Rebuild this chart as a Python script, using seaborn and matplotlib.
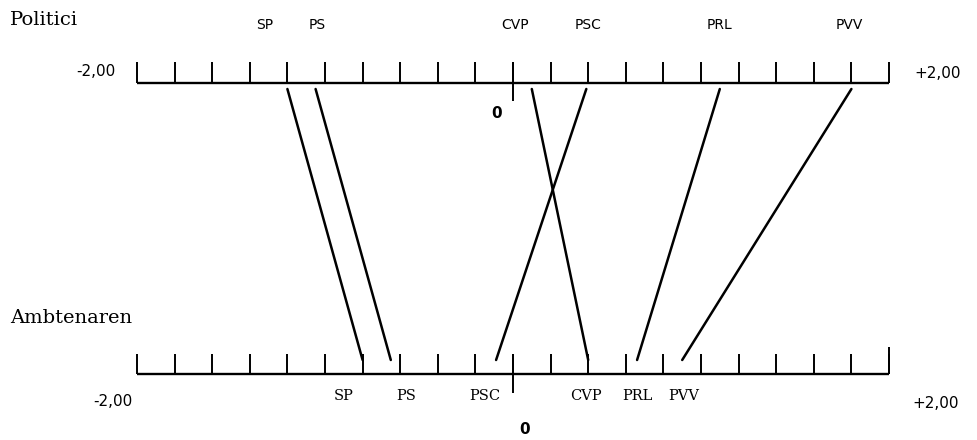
import numpy as np
import pandas as pd
import matplotlib
matplotlib.use("Agg")
import matplotlib.pyplot as plt
import seaborn as sns

# scores op de schaal -2,00 .. +2,00
parties = ["SP", "PS", "CVP", "PSC", "PRL", "PVV"]
politici = [-1.20, -1.05, 0.10, 0.39, 1.10, 1.80]
ambtenaren = [-0.80, -0.65, 0.40, -0.09, 0.66, 0.90]

top_order = ["SP", "PS", "CVP", "PSC", "PRL", "PVV"]
bottom_order = ["SP", "PS", "PSC", "CVP", "PRL", "PVV"]
tick_values = np.arange(-2.0, 2.001, 0.2)

# layout in pixels (y, top down)
Y_TOP, Y_BOT = 83, 374
PX_PER_UNIT = 188
X0 = 513

sns.set_style("white")
plt.rcParams["font.family"] = ["DejaVu Sans"]
plt.rcParams["text.color"] = "black"

fig = plt.figure(figsize=(9.78, 4.40), dpi=100)
ax = fig.add_axes([0, 0, 1, 1])
ax.set_xlim(-X0 / PX_PER_UNIT, (978 - X0) / PX_PER_UNIT)
ax.set_ylim(440, 0)
ax.axis("off")

# two scales
for y, up in [(Y_TOP, 21), (Y_BOT, 20)]:
    ax.hlines(y, -2, 2, color="black", lw=1.7)
    ax.vlines(tick_values, y - up, y, color="black", lw=1.4)
ax.vlines(0, Y_TOP - 21, Y_TOP + 18, color="black", lw=1.4)
ax.vlines(0, Y_BOT - 20, Y_BOT + 19, color="black", lw=1.4)
ax.vlines(2, Y_BOT - 27, Y_BOT, color="black", lw=1.4)

# connecting lines
df = pd.DataFrame({
    "party": parties * 2,
    "score": politici + ambtenaren,
    "y": [Y_TOP + 6] * len(parties) + [Y_BOT - 14] * len(parties),
})
sns.lineplot(data=df, x="score", y="y", units="party", estimator=None,
             sort=False, color="black", lw=1.8, ax=ax)

# labels
top_label_x = {"SP": -1.32, "PS": -1.04, "CVP": 0.01, "PSC": 0.40,
               "PRL": 1.10, "PVV": 1.79}
bottom_label_x = {"SP": -0.90, "PS": -0.57, "PSC": -0.15, "CVP": 0.39,
                  "PRL": 0.66, "PVV": 0.91}
for p in top_order:
    ax.text(top_label_x[p], 25, p, ha="center", va="center", fontsize=10)
for p in bottom_order:
    ax.text(bottom_label_x[p], 396, p, ha="center", va="center",
            fontsize=10.5, family="DejaVu Serif")

ax.text(-2.22, 72, "-2,00", ha="center", va="center", fontsize=11)
ax.text(2.26, 73, "+2,00", ha="center", va="center", fontsize=11)
ax.text(-2.13, 401, "-2,00", ha="center", va="center", fontsize=11)
ax.text(2.25, 403, "+2,00", ha="center", va="center", fontsize=11)
ax.text(-0.09, 113, "0", ha="center", va="center", fontsize=11, fontweight="bold")
ax.text(0.06, 430, "0", ha="center", va="center", fontsize=11, fontweight="bold")

ax.text(-2.675, 20, "Politici", ha="left", va="center", fontsize=14,
        family="DejaVu Serif")
ax.text(-2.675, 318, "Ambtenaren", ha="left", va="center", fontsize=14,
        family="DejaVu Serif")

fig.savefig("out.png", dpi=100)
